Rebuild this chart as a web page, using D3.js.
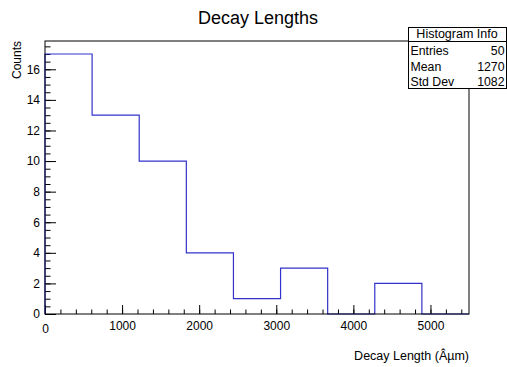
<!DOCTYPE html>
<html>
<head>
<meta charset="utf-8">
<script src="https://cdn.jsdelivr.net/npm/d3@7"></script>
<style>
  body { margin: 0; background: #fff; }
  text { font-family: "Liberation Sans", Arial, sans-serif; fill: #000; }
</style>
</head>
<body>
<div id="chart"></div>
<script>
var binEdges = [0, 611.1, 1222.2, 1833.3, 2444.4, 3055.6, 3666.7, 4277.8, 4888.9, 5500];
var binCounts = [17, 13, 10, 4, 1, 3, 0, 2, 0];
var xMajorTicks = [0, 1000, 2000, 3000, 4000, 5000];
var yMajorTicks = [0, 2, 4, 6, 8, 10, 12, 14, 16];
var statNames = ["Entries", "Mean", "Std Dev"];
var statValues = ["50", "1270", "1082"];

var svgWidth = 507;
var svgHeight = 367;

var chartMargin = {
    top: 41,
    right: 38,
    bottom: 53,
    left: 45
}

var chartWidth = svgWidth - chartMargin.right - chartMargin.left;
var chartHeight = svgHeight - chartMargin.top - chartMargin.bottom;

var svg = d3
    .select("#chart")
    .append("svg")
    .attr("height", svgHeight)
    .attr("width", svgWidth);

var chartGroup = svg.append("g")
    .attr("transform", `translate(${chartMargin.left}, ${chartMargin.top})`)

var xScale = d3.scaleLinear()
    .domain([0, 5500])
    .range([0, chartWidth]);

var yScale = d3.scaleLinear()
    .domain([0, d3.max(binCounts) * 1.05])
    .range([chartHeight, 0]);

// minor ticks every 200 on x, every 0.5 on y
var xMinor = d3.range(0, 5501, 200);
var yMinor = d3.range(0, 17.9, 0.5);

var xMinorAxis = chartGroup.append("g")
    .attr("transform", `translate(0, ${chartHeight})`)
    .call(d3.axisBottom(xScale).tickValues(xMinor).tickSize(-4.5).tickFormat(""));

var xAxis = chartGroup.append("g")
    .attr("transform", `translate(0, ${chartHeight})`)
    .call(d3.axisBottom(xScale).tickValues(xMajorTicks).tickSize(-9).tickPadding(5)
        .tickFormat(d3.format("d")));

var yMinorAxis = chartGroup.append("g")
    .call(d3.axisLeft(yScale).tickValues(yMinor).tickSize(-5.5).tickFormat(""));

var yAxis = chartGroup.append("g")
    .call(d3.axisLeft(yScale).tickValues(yMajorTicks).tickSize(-11).tickPadding(5)
        .tickFormat(d3.format("d")));

chartGroup.selectAll(".domain").remove();
chartGroup.selectAll(".tick line").attr("stroke", "#000");
xAxis.selectAll("text").attr("font-size", "12px").attr("dy", "0.95em");
yAxis.selectAll("text").attr("font-size", "12px");
// ROOT pushes the two zeros apart a little
xAxis.selectAll(".tick text").filter(d => d === 0).attr("dy", "1.15em");

// histogram outline
var pts = [[0, 0]];
binCounts.forEach(function(c, i) {
    pts.push([binEdges[i], c]);
    pts.push([binEdges[i + 1], c]);
});
pts.push([binEdges[binEdges.length - 1], 0]);

var line = d3.line()
    .x(d => xScale(d[0]))
    .y(d => yScale(d[1]));

chartGroup.append("path")
    .datum(pts)
    .attr("d", line)
    .attr("fill", "none")
    .attr("stroke", "#3333cc")
    .attr("stroke-width", 1.2);

// frame
chartGroup.append("rect")
    .attr("x", 0)
    .attr("y", 0)
    .attr("width", chartWidth)
    .attr("height", chartHeight)
    .attr("fill", "none")
    .attr("stroke", "#000")
    .attr("stroke-width", 1);

// titles
svg.append("text")
    .attr("x", 258)
    .attr("y", 24)
    .attr("text-anchor", "middle")
    .attr("font-size", "18px")
    .text("Decay Lengths");

svg.append("text")
    .attr("x", chartMargin.left + chartWidth)
    .attr("y", 360)
    .attr("text-anchor", "end")
    .attr("font-size", "12.5px")
    .text("Decay Length (Âµm)");

svg.append("text")
    .attr("transform", `translate(21, ${chartMargin.top}) rotate(-90)`)
    .attr("text-anchor", "end")
    .attr("font-size", "12px")
    .text("Counts");

// stats box
var statsGroup = svg.append("g")
    .attr("transform", "translate(408, 27)");

statsGroup.append("rect")
    .attr("x", 0.5)
    .attr("y", 0.5)
    .attr("width", 98)
    .attr("height", 61)
    .attr("fill", "#fff")
    .attr("stroke", "#000");

statsGroup.append("line")
    .attr("x1", 0.5)
    .attr("x2", 98.5)
    .attr("y1", 14.5)
    .attr("y2", 14.5)
    .attr("stroke", "#000");

statsGroup.append("text")
    .attr("x", 49)
    .attr("y", 11)
    .attr("text-anchor", "middle")
    .attr("font-size", "12.5px")
    .text("Histogram Info");

statsGroup.selectAll(".stat-name")
    .data(statNames)
    .enter()
    .append("text")
    .attr("class", "stat-name")
    .attr("x", 2.5)
    .attr("y", (d, i) => 28 + i * 15.5)
    .attr("font-size", "12.3px")
    .text(d => d);

statsGroup.selectAll(".stat-value")
    .data(statValues)
    .enter()
    .append("text")
    .attr("class", "stat-value")
    .attr("x", 96.5)
    .attr("y", (d, i) => 28 + i * 15.5)
    .attr("text-anchor", "end")
    .attr("font-size", "12.3px")
    .text(d => d);
</script>
</body>
</html>
